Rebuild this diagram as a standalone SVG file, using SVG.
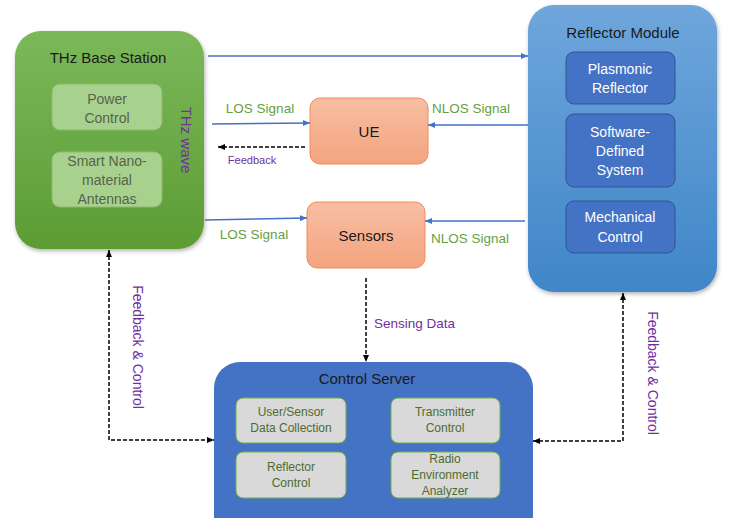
<svg xmlns="http://www.w3.org/2000/svg" width="730" height="518" viewBox="0 0 730 518">
<style>
text{font-family:"Liberation Sans",Arial,sans-serif;text-anchor:middle}
.title{font-size:15px;fill:#1a1a1a}
.gsub{fill:#a9d18e;stroke:#8cbc6c;stroke-width:1}
.gtxt{font-size:14px;fill:#56634c}
.bsub{fill:#4472c4;stroke:#2f5597;stroke-width:1}
.btxt{font-size:14px;fill:#ffffff}
.csub{fill:#d9d9d9;stroke:#70ad47;stroke-width:1}
.ctxt{font-size:12px;fill:#4e6b30}
.ue{fill:url(#og);stroke:#f08c5a;stroke-width:1}
.sig{stroke:#4472c4;stroke-width:1.5;fill:none;marker-end:url(#ab)}
.dash{stroke:#000;stroke-width:1.5;fill:none;stroke-dasharray:4,2}
.glab{font-size:13.5px;fill:#67a044}
.plab{fill:#7030a0}
</style>
<defs>
<linearGradient id="gg" x1="0" y1="0" x2="0" y2="1"><stop offset="0" stop-color="#7bb85a"/><stop offset="1" stop-color="#5c9c33"/></linearGradient>
<linearGradient id="bg" x1="0" y1="0" x2="0" y2="1"><stop offset="0" stop-color="#6fa6dc"/><stop offset="1" stop-color="#3f86c8"/></linearGradient>
<linearGradient id="og" x1="0" y1="0" x2="0" y2="1"><stop offset="0" stop-color="#f8bea4"/><stop offset="1" stop-color="#f3a47e"/></linearGradient>
<filter id="sh" x="-10%" y="-10%" width="120%" height="120%"><feDropShadow dx="1" dy="2" stdDeviation="2" flood-color="#000" flood-opacity="0.3"/></filter>
<marker id="ab" markerWidth="8" markerHeight="8" refX="7" refY="4" orient="auto" markerUnits="userSpaceOnUse"><path d="M0,1 L7,4 L0,7 z" fill="#4472c4"/></marker>
<marker id="ak" markerWidth="8" markerHeight="8" refX="7" refY="4" orient="auto-start-reverse" markerUnits="userSpaceOnUse"><path d="M0,1 L7,4 L0,7 z" fill="#000"/></marker>
</defs>

<g id="base-station">
<rect x="15" y="31" width="189" height="218" rx="26" fill="url(#gg)" filter="url(#sh)"/>
<text class="title" x="108" y="63">THz Base Station</text>
<rect class="gsub" x="52" y="84" width="110" height="46" rx="8"/>
<text class="gtxt" x="107" y="104">Power</text>
<text class="gtxt" x="107" y="123">Control</text>
<rect class="gsub" x="52" y="152" width="110" height="55" rx="8"/>
<text class="gtxt" x="107" y="166">Smart Nano-</text>
<text class="gtxt" x="107" y="185">material</text>
<text class="gtxt" x="107" y="204">Antennas</text>
<text class="plab" font-size="15" transform="translate(181,140) rotate(90)">THz wave</text>
</g>

<g id="reflector-module">
<rect x="528" y="5" width="189" height="287" rx="26" fill="url(#bg)" filter="url(#sh)"/>
<text class="title" x="623" y="38">Reflector Module</text>
<rect class="bsub" x="566" y="52" width="109" height="52" rx="8"/>
<text class="btxt" x="620" y="74">Plasmonic</text>
<text class="btxt" x="620" y="93">Reflector</text>
<rect class="bsub" x="566" y="114" width="109" height="73" rx="8"/>
<text class="btxt" x="620" y="137">Software-</text>
<text class="btxt" x="620" y="156">Defined</text>
<text class="btxt" x="620" y="175">System</text>
<rect class="bsub" x="566" y="201" width="109" height="52" rx="8"/>
<text class="btxt" x="620" y="222">Mechanical</text>
<text class="btxt" x="620" y="242">Control</text>
</g>

<g id="ue">
<rect class="ue" x="310" y="98" width="118" height="66" rx="10"/>
<text x="369" y="137" font-size="15" fill="#1a1a1a">UE</text>
</g>

<g id="sensors">
<rect class="ue" x="307" y="202" width="118" height="66" rx="10"/>
<text x="366" y="241" font-size="15" fill="#1a1a1a">Sensors</text>
</g>

<g id="control-server">
<path d="M240,362 H507 A26,26 0 0 1 533,388 V518 H214 V388 A26,26 0 0 1 240,362 z" fill="#4472c4"/>
<text class="title" x="367" y="384">Control Server</text>
<rect class="csub" x="236" y="398" width="110" height="45" rx="7"/>
<text class="ctxt" x="291" y="416">User/Sensor</text>
<text class="ctxt" x="291" y="432">Data Collection</text>
<rect class="csub" x="391" y="398" width="109" height="45" rx="7"/>
<text class="ctxt" x="445" y="416">Transmitter</text>
<text class="ctxt" x="445" y="432">Control</text>
<rect class="csub" x="236" y="452" width="110" height="46" rx="7"/>
<text class="ctxt" x="291" y="471">Reflector</text>
<text class="ctxt" x="291" y="487">Control</text>
<rect class="csub" x="391" y="452" width="109" height="46" rx="7"/>
<text class="ctxt" x="445" y="463">Radio</text>
<text class="ctxt" x="445" y="479">Environment</text>
<text class="ctxt" x="445" y="495">Analyzer</text>
</g>

<g id="connectors">
<line class="sig" x1="208" y1="56" x2="528" y2="56"/>
<line class="sig" x1="212" y1="124" x2="310" y2="123"/>
<line class="sig" x1="528" y1="125" x2="428" y2="125"/>
<line class="sig" x1="205" y1="220" x2="307" y2="218"/>
<line class="sig" x1="525" y1="221" x2="425" y2="221"/>
<line class="dash" x1="305" y1="147" x2="218" y2="147" marker-end="url(#ak)"/>
<line class="dash" x1="366" y1="278" x2="366" y2="362" marker-end="url(#ak)"/>
<path class="dash" d="M109,250 V440 H214" marker-start="url(#ak)" marker-end="url(#ak)"/>
<path class="dash" d="M623,293 V441 H533" marker-start="url(#ak)" marker-end="url(#ak)"/>
<text class="glab" x="260" y="113">LOS Signal</text>
<text class="glab" x="471" y="113">NLOS Signal</text>
<text class="glab" x="254" y="239">LOS Signal</text>
<text class="glab" x="470" y="243">NLOS Signal</text>
<text class="plab" x="252" y="164" font-size="11">Feedback</text>
<text class="plab" x="374" y="328" font-size="13.5" style="text-anchor:start">Sensing Data</text>
<text class="plab" font-size="14" transform="translate(133,347) rotate(90)">Feedback &amp; Control</text>
<text class="plab" font-size="14" transform="translate(648,373) rotate(90)">Feedback &amp; Control</text>
</g>
</svg>
